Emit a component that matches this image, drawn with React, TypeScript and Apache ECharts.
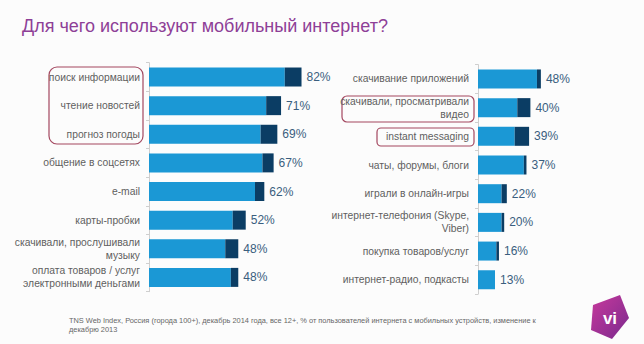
import React, { useEffect, useRef } from "react";
import * as echarts from "echarts";

const leftCategories = [
  "поиск информации",
  "чтение новостей",
  "прогноз погоды",
  "общение в соцсетях",
  "e-mail",
  "карты-пробки",
  "скачивали, прослушивали\nмузыку",
  "оплата товаров / услуг\nэлектронными деньгами",
];
const leftTotal = [82, 71, 69, 67, 62, 52, 48, 48];
const leftChange = [9, 8, 9, 6, 5, 7, 7, 4];

const rightCategories = [
  "скачивание приложений",
  "скачивали, просматривали\nвидео",
  "instant messaging",
  "чаты, форумы, блоги",
  "играли в онлайн-игры",
  "интернет-телефония (Skype,\nViber)",
  "покупка товаров/услуг",
  "интернет-радио, подкасты",
];
const rightTotal = [48, 40, 39, 37, 22, 20, 16, 13];
const rightChange = [3, 10, 11, 2, 4, 2, 2, 0];

const titleText = "Для чего используют мобильный интернет?";
const footnote1 =
  "TNS Web Index, Россия (города 100+), декабрь 2014 года, все 12+, % от пользователей интернета с мобильных устройств, изменение к";
const footnote2 = "декабрю 2013";

const LIGHT = "#1B98D5";
const DARK = "#0B3D64";
const FONT = "Liberation Sans, Arial, sans-serif";

export default function App() {
  const ref = useRef<HTMLDivElement>(null);
  useEffect(() => {
    if (!ref.current) return;
    const chart = echarts.init(ref.current, undefined, { renderer: "svg" });

    const yAxisCommon = (data: string[], gridIndex: number) => ({
      type: "category",
      data,
      gridIndex,
      inverse: true,
      axisLine: { show: true, lineStyle: { color: "#cfcfcf", width: 1 } },
      axisTick: { show: true, length: 3, lineStyle: { color: "#cfcfcf" } },
      axisLabel: {
        color: "#5f5f5f",
        fontSize: 10.3,
        fontFamily: FONT,
        margin: 9,
        lineHeight: 13,
        align: "right",
      },
    });
    const xAxisCommon = (gridIndex: number) => ({
      type: "value",
      gridIndex,
      min: 0,
      max: 100,
      show: false,
    });

    const labelFor = (totals: number[]) => ({
      show: true,
      position: "right",
      distance: 5,
      color: "#3A5E7E",
      fontSize: 12,
      fontFamily: FONT,
      formatter: (p: any) => totals[p.dataIndex] + "%",
    });

    chart.setOption({
      animation: false,
      backgroundColor: "#fcfcfc",
      title: {
        text: titleText,
        left: 17,
        top: 12,
        textStyle: {
          color: "#8E3F97",
          fontSize: 18,
          fontWeight: "normal",
          fontFamily: FONT,
        },
      },
      grid: [
        { left: 149, top: 62.7, width: 186, height: 229 },
        { left: 478, top: 64.6, width: 131, height: 229.5 },
      ],
      xAxis: [xAxisCommon(0), xAxisCommon(1)],
      yAxis: [yAxisCommon(leftCategories, 0), yAxisCommon(rightCategories, 1)],
      series: [
        {
          type: "bar",
          stack: "l",
          xAxisIndex: 0,
          yAxisIndex: 0,
          barWidth: 19,
          itemStyle: { color: LIGHT },
          data: leftTotal.map((t, i) => t - leftChange[i]),
        },
        {
          type: "bar",
          stack: "l",
          xAxisIndex: 0,
          yAxisIndex: 0,
          barWidth: 19,
          itemStyle: { color: DARK },
          label: labelFor(leftTotal),
          data: leftChange,
        },
        {
          type: "bar",
          stack: "r",
          xAxisIndex: 1,
          yAxisIndex: 1,
          barWidth: 19,
          itemStyle: { color: LIGHT },
          data: rightTotal.map((t, i) => t - rightChange[i]),
        },
        {
          type: "bar",
          stack: "r",
          xAxisIndex: 1,
          yAxisIndex: 1,
          barWidth: 19,
          itemStyle: { color: DARK },
          label: labelFor(rightTotal),
          data: rightChange,
        },
      ],
      graphic: [
        {
          type: "rect",
          shape: { x: 49, y: 67, width: 94, height: 77, r: 8 },
          style: { fill: "none", stroke: "#A3475F", lineWidth: 1.2 },
        },
        {
          type: "rect",
          shape: { x: 342, y: 96, width: 132, height: 26, r: 5 },
          style: { fill: "none", stroke: "#A3475F", lineWidth: 1.2 },
        },
        {
          type: "rect",
          shape: { x: 377, y: 128, width: 97, height: 18, r: 4 },
          style: { fill: "none", stroke: "#A3475F", lineWidth: 1.2 },
        },
        {
          type: "text",
          x: 69,
          y: 317,
          style: {
            text: footnote1,
            fill: "#666666",
            fontSize: 7.4,
            fontFamily: FONT,
          },
        },
        {
          type: "text",
          x: 69,
          y: 326,
          style: {
            text: footnote2,
            fill: "#666666",
            fontSize: 7.4,
            fontFamily: FONT,
          },
        },
        {
          type: "polygon",
          shape: {
            points: [
              [593, 305],
              [620, 295],
              [629, 318],
              [612, 339],
              [591, 330],
            ],
          },
          style: {
            fill: new echarts.graphic.LinearGradient(0, 0, 1, 1, [
              { offset: 0, color: "#C8399C" },
              { offset: 1, color: "#7A2A8E" },
            ]),
          },
        },
        {
          type: "text",
          x: 610,
          y: 318,
          style: {
            text: "vi",
            fill: "#ffffff",
            fontSize: 17,
            fontWeight: "bold",
            fontFamily: FONT,
            align: "center",
            verticalAlign: "middle",
          },
        },
      ],
    });
    return () => chart.dispose();
  }, []);
  return (
    <div
      ref={ref}
      style={{ position: "fixed", left: 0, top: 0, width: 644, height: 344 }}
    />
  );
}
